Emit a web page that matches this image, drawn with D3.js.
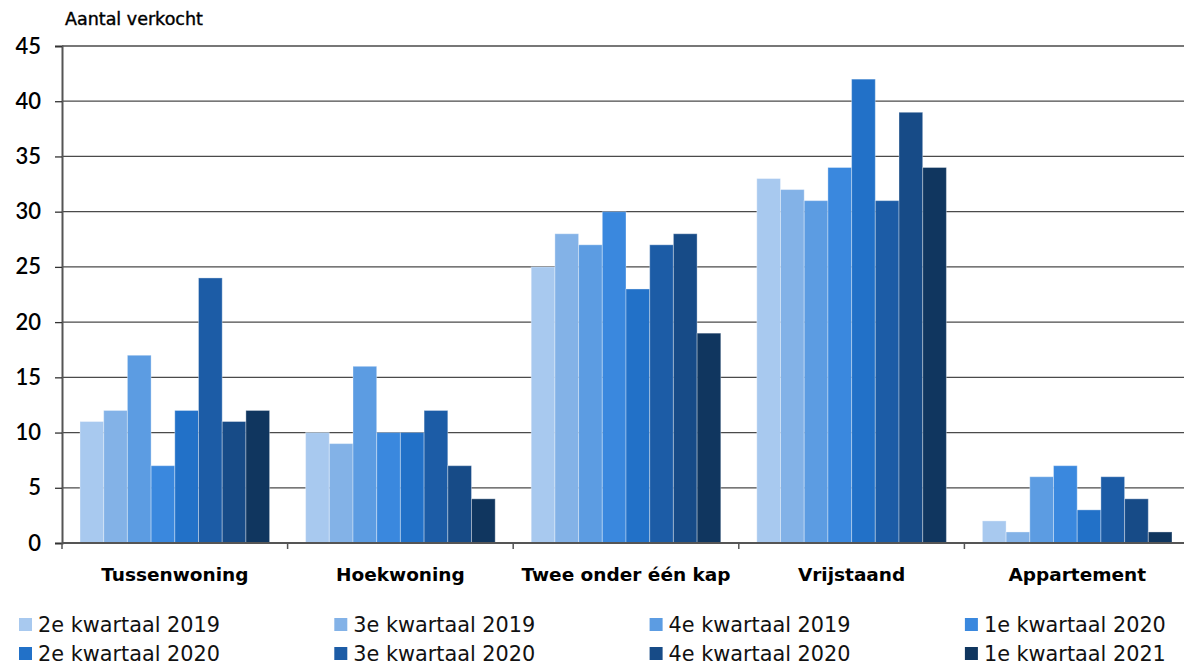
<!DOCTYPE html>
<html>
<head>
<meta charset="utf-8">
<script src="https://cdn.jsdelivr.net/npm/d3@7"></script>
<style>
  body { margin: 0; background: #fff; }
  svg { display: block; }
</style>
</head>
<body>
<div id="chart"></div>
<script>
// data
var categories = ["Tussenwoning", "Hoekwoning", "Twee onder één kap", "Vrijstaand", "Appartement"]
var seriesNames = ["2e kwartaal 2019", "3e kwartaal 2019", "4e kwartaal 2019", "1e kwartaal 2020",
                   "2e kwartaal 2020", "3e kwartaal 2020", "4e kwartaal 2020", "1e kwartaal 2021"]
var q2_2019 = [11, 10, 25, 33, 2]
var q3_2019 = [12, 9, 28, 32, 1]
var q4_2019 = [17, 16, 27, 31, 6]
var q1_2020 = [7, 10, 30, 34, 7]
var q2_2020 = [12, 10, 23, 42, 3]
var q3_2020 = [24, 12, 27, 31, 6]
var q4_2020 = [11, 7, 28, 39, 4]
var q1_2021 = [12, 4, 19, 34, 1]
var yTicks = [0, 5, 10, 15, 20, 25, 30, 35, 40, 45]
var colors = ["#a8c9ef", "#83b2e7", "#5c9ce2", "#3a88de", "#2271c8", "#1c5ca6", "#174b87", "#10365f"]

var allSeries = [q2_2019, q3_2019, q4_2019, q1_2020, q2_2020, q3_2020, q4_2020, q1_2021]

var width = 1184, height = 666
var margin = {top: 46, left: 62, bottom: 123}
var plotRight = 1190
var y0 = height - margin.bottom

var svg = d3.select("#chart").append("svg")
    .attr("width", width)
    .attr("height", height)

var x = d3.scaleBand()
    .domain(categories)
    .range([margin.left, plotRight])
    .padding(0)

// bars sit 18px in from each category boundary
var xSub = d3.scaleBand()
    .domain(seriesNames)
    .range([18, x.bandwidth() - 18])
    .padding(0)

var y = d3.scaleLinear()
    .domain([0, 45])
    .range([y0, margin.top])

// gridlines
svg.append("g")
    .selectAll("line")
    .data(yTicks.filter(function(d){ return d > 0 }))
    .enter().append("line")
    .attr("x1", margin.left)
    .attr("x2", width)
    .attr("y1", function(d){ return y(d) })
    .attr("y2", function(d){ return y(d) })
    .attr("stroke", "#4a4a4a")
    .attr("stroke-width", 1.3)

// bars
var groups = svg.append("g")
    .selectAll("g")
    .data(seriesNames)
    .enter().append("g")
    .attr("fill", function(d, i){ return colors[i] })

groups.each(function(name, si){
    d3.select(this).selectAll("rect")
        .data(allSeries[si])
        .enter().append("rect")
        .attr("x", function(d, ci){ return x(categories[ci]) + xSub(name) })
        .attr("width", xSub.bandwidth())
        .attr("y", function(d){ return y(d) })
        .attr("height", function(d){ return y0 - y(d) })
        .attr("stroke", "rgba(255,255,255,0.35)")
        .attr("stroke-width", 1)
})

// y axis
var yAxis = svg.append("g")
    .attr("transform", "translate(" + margin.left + ",0)")
    .call(d3.axisLeft(y).tickValues(yTicks).tickSize(7).tickPadding(14))
yAxis.select(".domain").attr("stroke", "#555").attr("stroke-width", 2)
yAxis.selectAll(".tick line").attr("stroke", "#333").attr("stroke-width", 1.3)
yAxis.selectAll("text")
    .attr("font-family", "Lato, sans-serif")
    .attr("font-size", "22px")
    .attr("font-weight", "600")
    .attr("fill", "#000")

// x axis
var boundaries = categories.map(function(c){ return x(c) }).concat([plotRight])
svg.append("line")
    .attr("x1", margin.left).attr("x2", width)
    .attr("y1", y0).attr("y2", y0)
    .attr("stroke", "#555").attr("stroke-width", 2)
svg.append("g").selectAll("line")
    .data(boundaries)
    .enter().append("line")
    .attr("x1", function(d){ return d }).attr("x2", function(d){ return d })
    .attr("y1", y0).attr("y2", y0 + 6)
    .attr("stroke", "#555").attr("stroke-width", 1.5)

svg.append("g").selectAll("text")
    .data(categories)
    .enter().append("text")
    .attr("x", function(d){ return x(d) + x.bandwidth() / 2 })
    .attr("y", 581)
    .attr("text-anchor", "middle")
    .attr("font-family", "'DejaVu Sans', sans-serif")
    .attr("font-size", "18.5px")
    .attr("font-weight", "bold")
    .attr("fill", "#000")
    .text(function(d){ return d })

// axis title
svg.append("text")
    .attr("x", 65)
    .attr("y", 25)
    .attr("font-family", "'DejaVu Sans', sans-serif")
    .attr("font-size", "17.5px")
    .attr("fill", "#000")
    .attr("stroke", "#000")
    .attr("stroke-width", 0.4)
    .text("Aantal verkocht")

// legend, 4 columns x 2 rows
var legend = svg.append("g").selectAll("g")
    .data(seriesNames)
    .enter().append("g")
    .attr("transform", function(d, i){
        return "translate(" + (19 + (i % 4) * 315.3) + "," + (625 + Math.floor(i / 4) * 29) + ")"
    })
legend.append("rect")
    .attr("x", 0).attr("y", -7)
    .attr("width", 13).attr("height", 13)
    .attr("fill", function(d, i){ return colors[i] })
legend.append("text")
    .attr("x", 19)
    .attr("y", 7)
    .attr("font-family", "'DejaVu Sans', sans-serif")
    .attr("font-size", "20.8px")
    .attr("fill", "#111")
    .text(function(d){ return d })
</script>
</body>
</html>
